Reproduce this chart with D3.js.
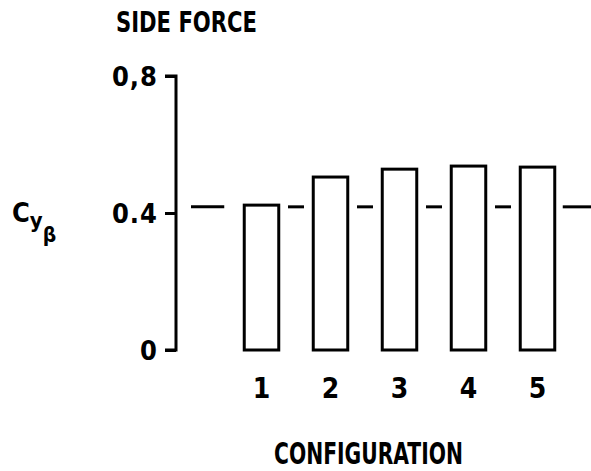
<!DOCTYPE html>
<html>
<head>
<meta charset="utf-8">
<script src="https://cdn.jsdelivr.net/npm/d3@7"></script>
<style>
  html, body { margin: 0; padding: 0; background: #fff; }
  svg { display: block; }
  text { font-family: "DejaVu Sans Condensed", "DejaVu Sans", sans-serif; font-weight: bold; fill: #000; }
</style>
</head>
<body>
<svg id="chart" width="591" height="471"></svg>
<script>
// Side-force derivative per configuration
const configurations = ["1", "2", "3", "4", "5"];
const cyBeta = [0.423, 0.505, 0.528, 0.537, 0.534];
const referenceLevel = [0.418];
const yTickValues = [0, 0.4, 0.8];
const yTickLabels = ["0", "0.4", "0,8"];

const svg = d3.select("#chart");

const y = d3.scaleLinear().domain([0, 0.8]).range([350, 76]);
const x = d3.scaleBand()
  .domain(configurations)
  .range([227, 572])
  .paddingInner(0.5)
  .paddingOuter(0.25);

const axisX = 176;

// Y axis
const yAxis = d3.axisLeft(y)
  .tickValues(yTickValues)
  .tickFormat((d, i) => yTickLabels[i])
  .tickSize(11)
  .tickPadding(7);

const gy = svg.append("g")
  .attr("transform", `translate(${axisX},0)`)
  .call(yAxis);
gy.select(".domain")
  .attr("d", `M-11,${y(0.8)}H0V${y(0)}H-11`)
  .attr("stroke", "#000").attr("stroke-width", 3).attr("fill", "none");
gy.selectAll(".tick line").attr("stroke", "#000").attr("stroke-width", 3);
gy.selectAll(".tick text")
  .attr("font-size", 27)
  .attr("font-family", "\"DejaVu Sans Condensed\", sans-serif")
  .attr("font-weight", "bold")
  .attr("dy", "0.36em")
  .attr("letter-spacing", 1);

// Dashed reference level, drawn in the gaps around the bars
const refY = y(referenceLevel[0]);
const bands = configurations.map(c => [x(c), x(c) + x.bandwidth()]);
const segs = [[axisX + 15, bands[0][0] - 20]];
for (let i = 0; i < bands.length - 1; i++) {
  const mid = (bands[i][1] + bands[i + 1][0]) / 2;
  segs.push([mid - 8, mid + 8]);
}
segs.push([bands[bands.length - 1][1] + 8, 591]);
svg.append("g").selectAll("line").data(segs).join("line")
  .attr("x1", d => d[0]).attr("x2", d => d[1])
  .attr("y1", refY).attr("y2", refY)
  .attr("stroke", "#000").attr("stroke-width", 3);

// Bars
svg.append("g").selectAll("rect").data(cyBeta).join("rect")
  .attr("x", (d, i) => x(configurations[i]))
  .attr("y", d => y(d))
  .attr("width", x.bandwidth())
  .attr("height", d => y(0) - y(d))
  .attr("fill", "#fff")
  .attr("stroke", "#000")
  .attr("stroke-width", 3);

// X tick labels
svg.append("g").selectAll("text").data(configurations).join("text")
  .attr("x", d => x(d) + x.bandwidth() / 2)
  .attr("y", 398)
  .attr("text-anchor", "middle")
  .attr("font-size", 28)
  .text(d => d);

// Titles
svg.append("text")
  .attr("x", 116).attr("y", 32)
  .attr("font-size", 28)
  .attr("textLength", 141)
  .attr("lengthAdjust", "spacingAndGlyphs")
  .text("SIDE FORCE");

svg.append("text")
  .attr("x", 274).attr("y", 464)
  .attr("font-size", 30)
  .attr("textLength", 189)
  .attr("lengthAdjust", "spacingAndGlyphs")
  .text("CONFIGURATION");

// C_yβ axis label
const lab = svg.append("text").attr("x", 12).attr("y", 222).attr("font-size", 27);
lab.append("tspan").text("C");
lab.append("tspan").attr("font-size", 22).attr("dy", 6).text("y");
lab.append("tspan").attr("font-size", 21).attr("dy", 14).text("β");
</script>
</body>
</html>
